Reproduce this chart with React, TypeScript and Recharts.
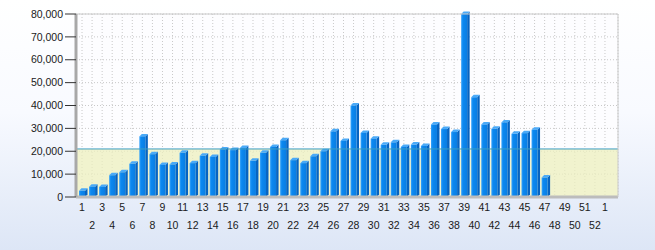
import React from 'react';
import {
  BarChart,
  Bar,
  XAxis,
  YAxis,
  CartesianGrid,
  ReferenceLine,
  ReferenceArea,
} from 'recharts';

// week labels: 52 weeks, then week 1 of the next year
const weeks = [
  '1', '2', '3', '4', '5', '6', '7', '8', '9', '10',
  '11', '12', '13', '14', '15', '16', '17', '18', '19', '20',
  '21', '22', '23', '24', '25', '26', '27', '28', '29', '30',
  '31', '32', '33', '34', '35', '36', '37', '38', '39', '40',
  '41', '42', '43', '44', '45', '46', '47', '48', '49', '50',
  '51', '52', '1',
];

// weekly values, weeks without data are null
const volumes = [
  2700, 4500, 4400, 9500, 10800, 14500, 26500, 18700, 14000, 14200,
  19300, 14800, 18000, 17500, 20800, 20500, 21400, 15800, 19300, 21900,
  24800, 16100, 14800, 17800, 20000, 28700, 24500, 40000, 28000, 25500,
  22800, 23900, 21900, 22900, 22300, 31700, 29700, 28400, 80000, 43600,
  31700, 29800, 32600, 27600, 27900, 29400, 8500, null, null, null,
  null, null, null,
];

const yTicks = [0, 10000, 20000, 30000, 40000, 50000, 60000, 70000, 80000];
const AVERAGE = 21000;

const data = weeks.map((week, i) => ({ idx: i, week, value: volumes[i] }));

const FONT = '"Liberation Sans", Arial, sans-serif';

// box-style bar: front face, lit top, shaded right side
function Box(props: any) {
  const { x, y, width, height } = props;
  if (!height || height <= 0) return null;
  const d = 2.5;
  return (
    <g>
      <polygon
        points={`${x + width},${y} ${x + width + d},${y - d} ${x + width + d},${y + height - d} ${x + width},${y + height}`}
        fill="#0763c0"
      />
      <polygon
        points={`${x},${y} ${x + d},${y - d} ${x + width + d},${y - d} ${x + width},${y}`}
        fill="#4aaaf8"
      />
      <rect x={x} y={y} width={width} height={height} fill="url(#barFront)" />
    </g>
  );
}

function WeekTick(props: any) {
  const { x, y, payload } = props;
  const row = payload.index % 2 === 0 ? 14 : 32;
  return (
    <text
      x={x}
      y={y + row}
      textAnchor="middle"
      fontSize={10.5}
      fontFamily={FONT}
      fill="#1a1a1a"
    >
      {weeks[payload.index]}
    </text>
  );
}

export default function App() {
  return (
    <div
      style={{
        position: 'absolute',
        left: 0,
        top: 0,
        width: 655,
        height: 250,
        background: 'linear-gradient(to bottom, #ffffff 0%, #f8faff 45%, #dde6f6 100%)',
      }}
    >
      <BarChart
        width={655}
        height={250}
        data={data}
        margin={{ top: 14, right: 36, left: 0, bottom: 13 }}
      >
        <defs>
          <linearGradient id="barFront" x1="0" y1="0" x2="1" y2="0">
            <stop offset="0%" stopColor="#3aa4fa" />
            <stop offset="30%" stopColor="#0b88f0" />
            <stop offset="100%" stopColor="#0a7de2" />
          </linearGradient>
        </defs>
        <CartesianGrid
          stroke="#c9c9c9"
          strokeDasharray="1 2"
          fill="#fdfdff"
        />
        <ReferenceArea
          xAxisId="full"
          y1={0}
          y2={AVERAGE}
          fill="#ecefbe"
          fillOpacity={0.75}
          stroke="none"
        />
        <ReferenceLine y={AVERAGE} stroke="#3a9cc0" strokeWidth={1} />
        <ReferenceLine y={80000} stroke="#cacaca" strokeWidth={1} />
        <XAxis
          dataKey="idx"
          type="category"
          interval={0}
          padding={{ left: 1, right: 8 }}
          height={40}
          tickLine={false}
          tickSize={0}
          tickMargin={0}
          axisLine={{ stroke: '#bcbcbc', strokeWidth: 3 }}
          tick={<WeekTick />}
        />
        <XAxis xAxisId="full" dataKey="idx" height={0} hide />
        <YAxis
          domain={[0, 80000]}
          ticks={yTicks}
          interval={0}
          width={76}
          tickSize={11}
          tickMargin={2}
          tickLine={{ stroke: '#333333' }}
          axisLine={{ stroke: '#a8a8a8', strokeWidth: 3 }}
          tick={{ fontSize: 10.5, fontFamily: FONT, fill: '#1a1a1a' }}
          tickFormatter={(v: number) => v.toLocaleString('en-US')}
        />
        <YAxis
          yAxisId="frame"
          orientation="right"
          domain={[0, 80000]}
          width={1}
          tick={false}
          tickLine={false}
          axisLine={{ stroke: '#cacaca' }}
        />
        <Bar dataKey="value" barSize={6} shape={<Box />} isAnimationActive={false} />
      </BarChart>
    </div>
  );
}
